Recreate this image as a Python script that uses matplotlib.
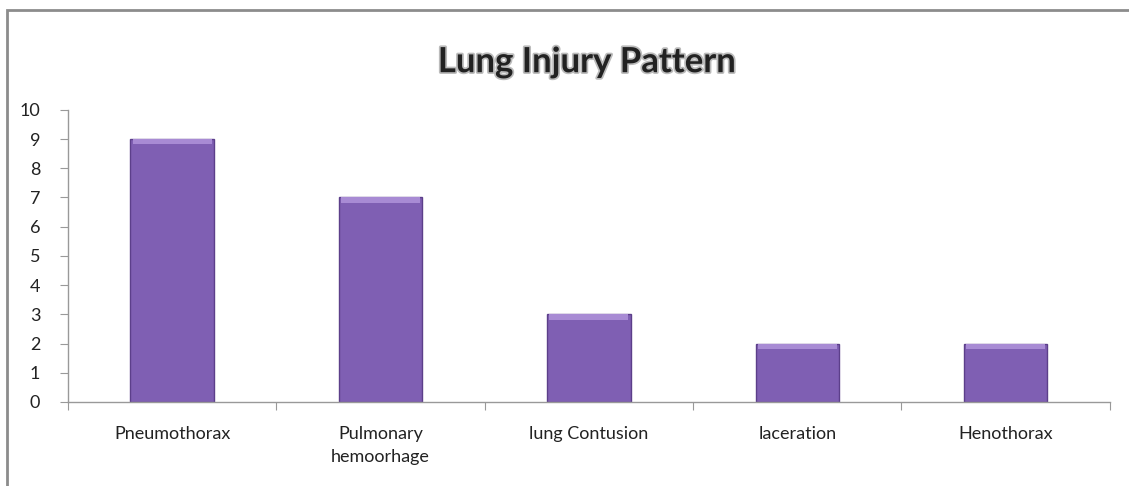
import matplotlib
matplotlib.use("Agg")
import matplotlib.pyplot as plt
import matplotlib.patches as patches
import matplotlib.patheffects as pe
import numpy as np

categories = ["Pneumothorax", "Pulmonary\nhemoorhage", "lung Contusion", "laceration", "Henothorax"]
counts = [9, 7, 3, 2, 2]
y_ticks = list(range(0, 11))

plt.rcParams['font.family'] = ['Lato', 'DejaVu Sans']

fig = plt.figure(figsize=(11.29, 4.86), dpi=100)
ax = fig.add_axes([0.0602, 0.173, 0.9228, 0.601])

x = np.arange(len(categories))
ax.bar(x, counts, width=0.4, color="#7f5fb3", edgecolor="#5c3f8a", linewidth=1.0, zorder=2)
# light bevel on top of each bar
ax.bar(x, [0.18] * len(counts), bottom=np.array(counts) - 0.18, width=0.38,
       color="#a88bd4", linewidth=0, zorder=3)

ax.set_xlim(-0.5, len(categories) - 0.5)
ax.set_ylim(0, 10)
ax.set_yticks(y_ticks)
ax.set_yticklabels([str(v) for v in y_ticks], fontsize=13, color="#222222")

# category labels centred, tick marks between categories
ax.set_xticks(np.arange(-0.5, len(categories)), minor=False)
ax.set_xticklabels([])
ax.set_xticks(x, minor=True)
ax.set_xticklabels(categories, minor=True, fontsize=13, color="#222222", linespacing=1.55)
ax.tick_params(axis="x", which="minor", length=0, pad=17)
ax.tick_params(axis="x", which="major", length=6, color="#999999", direction="out")
ax.tick_params(axis="y", length=6, color="#999999", direction="out", pad=14)

for s in ["top", "right"]:
    ax.spines[s].set_visible(False)
for s in ["left", "bottom"]:
    ax.spines[s].set_color("#999999")
    ax.spines[s].set_linewidth(1.0)

fig.text(0.52, 0.872, "Lung Injury Pattern", ha="center", va="center",
         fontsize=25, fontweight="bold", color="#222222",
         path_effects=[pe.withStroke(linewidth=2.5, foreground="#bbbbbb")])

border = patches.Rectangle((7 / 1129, -0.1), 1.2, 1 - 10 / 486 + 0.1,
                           transform=fig.transFigure, fill=False,
                           edgecolor="#8c8c8c", linewidth=2.0, clip_on=False)
fig.patches.append(border)

fig.savefig("out.png", dpi=100)
